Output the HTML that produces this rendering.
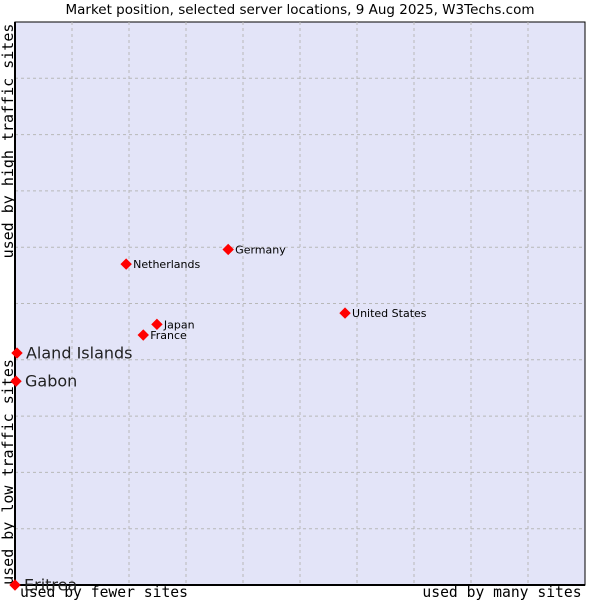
<!DOCTYPE html>
<html><head><meta charset="utf-8"><style>
body{margin:0;background:#fff;width:600px;height:600px;overflow:hidden}
svg{display:block}
</style></head><body>
<svg id="chart" width="600" height="600" xmlns="http://www.w3.org/2000/svg">
<text x="300" y="14" text-anchor="middle" font-family="DejaVu Sans, sans-serif" font-size="13.5" fill="#000">Market position, selected server locations, 9 Aug 2025, W3Techs.com</text>
<rect x="15" y="22" width="570" height="563" fill="#e3e4f8" stroke="#000" stroke-width="1"/>
<g id="grid"></g>
<line x1="15" y1="22" x2="15" y2="585" stroke="#000" stroke-width="2"/>
<line x1="15" y1="585" x2="585" y2="585" stroke="#000" stroke-width="2"/>
<text x="104" y="597" text-anchor="middle" font-family="DejaVu Sans Mono, monospace" font-size="14.7">used by fewer sites</text>
<text x="502" y="597" text-anchor="middle" font-family="DejaVu Sans Mono, monospace" font-size="14.7">used by many sites</text>
<text transform="translate(13,141) rotate(-90)" text-anchor="middle" font-family="DejaVu Sans Mono, monospace" font-size="15">used by high traffic sites</text>
<text transform="translate(13,472) rotate(-90)" text-anchor="middle" font-family="DejaVu Sans Mono, monospace" font-size="15">used by low traffic sites</text>
<g id="points"></g>
</svg>
<script>
const names = ["Aland Islands","Gabon","Eritrea","Netherlands","Germany","United States","Japan","France"];
const xValues = [0.35,0.18,0,19.5,37.4,57.9,24.9,22.5];
const yValues = [41.2,36.2,0,57.0,59.6,48.3,46.3,44.4];
const highlighted = [true,true,true,false,false,false,false,false];
const NS="http://www.w3.org/2000/svg";
const L=15,R=585,T=22,B=585;
function xs(v){return L+v/100*(R-L);}
function ys(v){return B-v/100*(B-T);}
const grid=document.getElementById('grid');
for(let i=1;i<10;i++){
  const v=document.createElementNS(NS,'line');
  v.setAttribute('x1',xs(i*10));v.setAttribute('x2',xs(i*10));v.setAttribute('y1',T);v.setAttribute('y2',B);
  v.setAttribute('stroke','#b8b8b8');v.setAttribute('stroke-dasharray','3,3');
  
  
  grid.appendChild(v);
  const h=document.createElementNS(NS,'line');
  h.setAttribute('y1',ys(i*10));h.setAttribute('y2',ys(i*10));h.setAttribute('x1',L);h.setAttribute('x2',R);
  h.setAttribute('stroke','#b8b8b8');h.setAttribute('stroke-dasharray','3,3');
  
  
  grid.appendChild(h);
}
const pts=document.getElementById('points');
names.forEach((n,i)=>{
  const x=xs(xValues[i]),y=ys(yValues[i]);
  const r=5;
  const d=document.createElementNS(NS,'path');
  d.setAttribute('d',`M${x} ${y-r}L${x+r} ${y}L${x} ${y+r}L${x-r} ${y}Z`);
  d.setAttribute('fill','#f00');
  d.setAttribute('stroke','#f00');
  d.setAttribute('stroke-width','1');
  
  
  pts.appendChild(d);
  const t=document.createElementNS(NS,'text');
  const big=highlighted[i];
  t.setAttribute('x',x+(big?9:7));t.setAttribute('y',y+(big?5.5:4));
  t.setAttribute('font-family','DejaVu Sans, sans-serif');
  t.setAttribute('font-size',big?16:11);
  t.setAttribute('fill',big?'#222':'#000');
  t.textContent=n;
  
  
  pts.appendChild(t);
});
</script>
</body></html>
